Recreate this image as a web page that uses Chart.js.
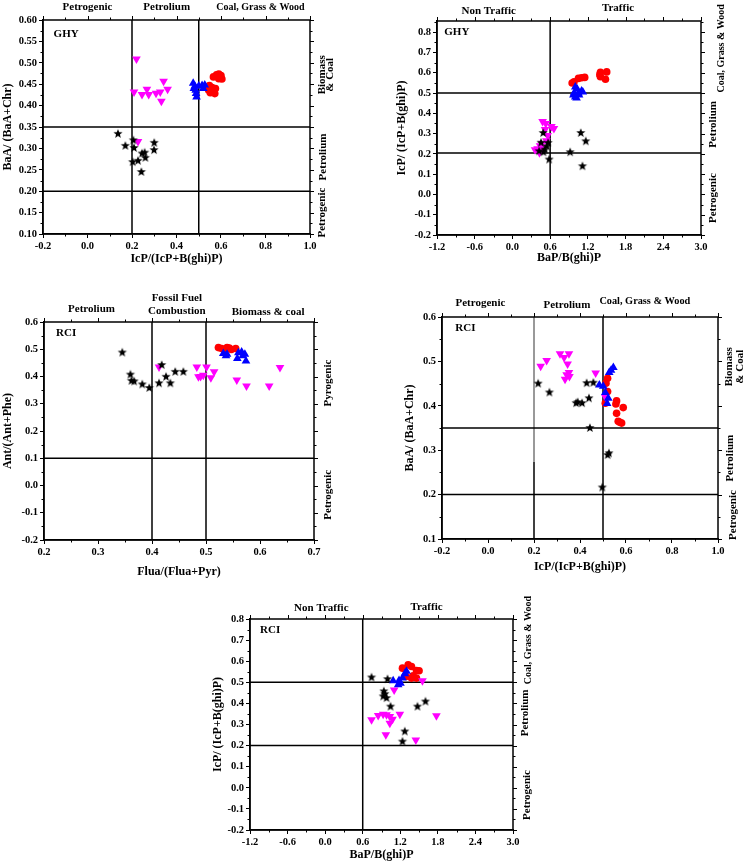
<!DOCTYPE html>
<html>
<head>
<meta charset="utf-8">
<script src="https://cdn.jsdelivr.net/npm/chart.js@4.4.0/dist/chart.umd.min.js"></script>
<style>
html, body { margin: 0; padding: 0; background: #fff; width: 748px; height: 862px; overflow: hidden; position: relative; }
.panel { position: absolute; }
</style>
</head>
<body>
<script>
// ---- GHY : BaA/(BaA+Chr) vs IcP/(IcP+B(ghi)P)
const ghy1Star = [[0.137,0.334],[0.170,0.306],[0.206,0.319],[0.209,0.301],[0.300,0.313],[0.299,0.296],[0.245,0.288],[0.257,0.290],[0.260,0.278],[0.227,0.271],[0.203,0.268],[0.242,0.245]];
const ghy1Mag = [[0.220,0.509],[0.209,0.432],[0.245,0.426],[0.267,0.438],[0.275,0.426],[0.308,0.429],[0.327,0.432],[0.332,0.410],[0.342,0.457],[0.360,0.438],[0.227,0.316]];
const ghy1Blue = [[0.475,0.452],[0.478,0.440],[0.482,0.445],[0.486,0.436],[0.488,0.428],[0.490,0.420],[0.500,0.446],[0.515,0.447],[0.527,0.448],[0.520,0.440]];
const ghy1Red = [[0.566,0.467],[0.580,0.472],[0.590,0.474],[0.600,0.470],[0.604,0.462],[0.590,0.463],[0.535,0.442],[0.545,0.436],[0.552,0.430],[0.560,0.442],[0.566,0.435],[0.572,0.428],[0.575,0.440],[0.548,0.447]];
const ghy1V = [0.2, 0.5];
const ghy1H = [0.35, 0.2];

// ---- GHY : IcP/(IcP+B(ghi)P) vs BaP/B(ghi)P
const ghy2Star = [[0.489,0.303],[1.087,0.303],[1.167,0.262],[0.547,0.237],[0.515,0.221],[0.494,0.208],[0.918,0.208],[0.584,0.172],[1.114,0.139],[0.425,0.213],[0.568,0.254],[0.455,0.255]];
const ghy2Mag = [[0.48,0.36],[0.53,0.35],[0.62,0.335],[0.66,0.325],[0.52,0.32],[0.56,0.29],[0.54,0.265],[0.44,0.24],[0.40,0.225],[0.36,0.22],[0.43,0.205],[0.48,0.23],[0.47,0.25]];
const ghy2Blue = [[1.00,0.53],[1.03,0.52],[1.05,0.50],[0.97,0.49],[1.00,0.48],[1.06,0.49],[1.10,0.51],[1.12,0.505],[0.98,0.50],[1.02,0.475]];
const ghy2Red = [[0.95,0.549],[0.98,0.555],[1.05,0.572],[1.10,0.575],[1.15,0.577],[1.39,0.59],[1.40,0.602],[1.50,0.604],[1.48,0.568],[1.40,0.58]];
const ghy2V = [0.6];
const ghy2H = [0.5, 0.204];

// ---- RCI : Ant/(Ant+Phe) vs Flua/(Flua+Pyr)
const rci3Star = [[0.345,0.488],[0.360,0.407],[0.362,0.384],[0.367,0.382],[0.382,0.371],[0.395,0.358],[0.413,0.375],[0.418,0.442],[0.426,0.399],[0.434,0.375],[0.443,0.417],[0.458,0.417]];
const rci3Mag = [[0.413,0.435],[0.483,0.435],[0.501,0.435],[0.486,0.399],[0.495,0.405],[0.509,0.395],[0.515,0.417],[0.557,0.387],[0.575,0.365],[0.617,0.365],[0.637,0.433],[0.490,0.400]];
const rci3Blue = [[0.532,0.484],[0.539,0.482],[0.537,0.476],[0.560,0.487],[0.566,0.490],[0.558,0.466],[0.572,0.482],[0.574,0.457],[0.568,0.476]];
const rci3Red = [[0.523,0.506],[0.529,0.503],[0.539,0.506],[0.547,0.499],[0.555,0.503],[0.535,0.499],[0.543,0.504]];
const rci3V = [0.4, 0.5];
const rci3H = [0.1];

// ---- RCI : BaA/(BaA+Chr) vs IcP/(IcP+B(ghi)P)
const rci4Star = [[0.218,0.450],[0.267,0.430],[0.383,0.406],[0.409,0.406],[0.439,0.417],[0.429,0.451],[0.458,0.452],[0.443,0.350],[0.520,0.289],[0.526,0.293],[0.497,0.216],[0.390,0.408]];
const rci4Mag = [[0.229,0.489],[0.255,0.502],[0.313,0.517],[0.331,0.509],[0.352,0.517],[0.346,0.494],[0.352,0.475],[0.354,0.466],[0.335,0.460],[0.342,0.470],[0.468,0.474],[0.510,0.420]];
const rci4Blue = [[0.484,0.447],[0.501,0.444],[0.527,0.475],[0.545,0.486],[0.510,0.430],[0.523,0.417],[0.518,0.405],[0.535,0.480]];
const rci4Red = [[0.520,0.462],[0.513,0.451],[0.520,0.432],[0.510,0.406],[0.559,0.411],[0.556,0.404],[0.559,0.383],[0.588,0.396],[0.566,0.365],[0.581,0.361],[0.573,0.363]];
const rci4V = [0.2, 0.5];
const rci4H = [0.35, 0.2];

// ---- RCI : IcP/(IcP+B(ghi)P) vs BaP/B(ghi)P
const rci5Star = [[0.741,0.523],[0.996,0.515],[0.937,0.457],[0.953,0.444],[0.927,0.433],[0.98,0.425],[1.044,0.385],[1.474,0.385],[1.602,0.409],[1.272,0.267],[1.235,0.219]];
const rci5Mag = [[0.741,0.322],[0.847,0.343],[0.927,0.349],[0.98,0.346],[1.033,0.338],[1.076,0.325],[1.033,0.306],[1.193,0.349],[1.777,0.341],[0.969,0.251],[1.448,0.227],[1.102,0.464],[1.554,0.507]];
const rci5Blue = [[1.086,0.507],[1.166,0.488],[1.203,0.496],[1.235,0.52],[1.272,0.54],[1.299,0.552],[1.18,0.509]];
const rci5Red = [[1.235,0.567],[1.326,0.583],[1.379,0.575],[1.458,0.556],[1.5,0.555],[1.379,0.52],[1.458,0.52],[1.289,0.528],[1.405,0.531]];
const rci5V = [0.6];
const rci5H = [0.5, 0.2];

const FONT = "'Liberation Serif', 'Times New Roman', serif";
const padL = 46, padT = 30, padR = 34, padB = 40;

function fmt(d) {
    return v => (Math.abs(v) < 1e-9 ? 0 : v).toFixed(d);
}

// filled five point star used as point style
function starImage(r) {
    const c = document.createElement('canvas');
    const s = Math.ceil(r * 2) + 2;
    c.width = s; c.height = s;
    const g = c.getContext('2d');
    g.fillStyle = '#000';
    g.beginPath();
    for (let i = 0; i < 10; i++) {
        const rr = i % 2 ? r * 0.42 : r;
        const a = -Math.PI / 2 + i * Math.PI / 5;
        g.lineTo(s / 2 + rr * Math.cos(a), s / 2 + rr * Math.sin(a));
    }
    g.closePath();
    g.fill();
    return c;
}
const STAR = starImage(4.8);

const toPts = a => a.map(p => ({x: p[0], y: p[1]}));

// frame, minor/mirrored ticks and region labels
const decor = {
    id: 'decor',
    afterDraw(chart, args, o) {
        const ctx = chart.ctx, a = chart.chartArea;
        const xs = chart.scales.x, ys = chart.scales.y;
        ctx.save();
        ctx.strokeStyle = '#000';
        ctx.lineWidth = 1.5;
        ctx.strokeRect(a.left, a.top, a.right - a.left, a.bottom - a.top);
        ctx.lineWidth = 1;
        const isMajor = (v, s) => s.ticks.some(t => Math.abs(t.value - v) < 1e-6);
        ctx.beginPath();
        for (let v = xs.min; v <= xs.max + 1e-9; v += o.minorX) {
            const px = Math.round(xs.getPixelForValue(v)) + 0.5;
            const len = isMajor(v, xs) ? 4 : 2.5;
            ctx.moveTo(px, a.top); ctx.lineTo(px, a.top - len);
            if (!isMajor(v, xs)) { ctx.moveTo(px, a.bottom); ctx.lineTo(px, a.bottom + len); }
        }
        for (let v = ys.min; v <= ys.max + 1e-9; v += o.minorY) {
            const py = Math.round(ys.getPixelForValue(v)) + 0.5;
            const len = isMajor(v, ys) ? 4 : 2.5;
            ctx.moveTo(a.right, py); ctx.lineTo(a.right + len, py);
            if (!isMajor(v, ys)) { ctx.moveTo(a.left, py); ctx.lineTo(a.left - len, py); }
        }
        ctx.stroke();

        ctx.fillStyle = '#000';
        ctx.textAlign = 'left';
        ctx.textBaseline = 'middle';
        ctx.font = 'bold 11px ' + FONT;
        ctx.fillText(o.tag, a.left + o.tagAt[0], a.top + o.tagAt[1]);

        ctx.textAlign = 'center';
        o.tops.forEach(l => {
            ctx.font = 'bold ' + (l.size || 11) + 'px ' + FONT;
            const px = xs.getPixelForValue(l.x);
            l.t.forEach((s, i) => ctx.fillText(s, px, a.top + l.dy[i]));
        });
        o.rights.forEach(l => {
            ctx.font = 'bold ' + (l.size || 11) + 'px ' + FONT;
            const py = ys.getPixelForValue(l.y);
            l.t.forEach((s, i) => {
                ctx.save();
                ctx.translate(a.right + l.dx[i], py);
                ctx.rotate(-Math.PI / 2);
                ctx.fillText(s, 0, 0);
                ctx.restore();
            });
        });
        ctx.restore();
    }
};

function makePanel(p) {
    const b = p.box;
    const w = b.R - b.L + padL + padR;
    const h = b.B - b.T + padT + padB;
    const div = document.createElement('div');
    div.className = 'panel';
    div.style.left = (b.L - padL) + 'px';
    div.style.top = (b.T - padT) + 'px';
    div.style.width = w + 'px';
    div.style.height = h + 'px';
    const cv = document.createElement('canvas');
    cv.width = w; cv.height = h;
    div.appendChild(cv);
    document.body.appendChild(div);

    const lines = [];
    p.v.forEach(v => lines.push({pts: [{x: v, y: p.y.min}, {x: v, y: p.y.max}], c: '#000'}));
    p.h.forEach(v => lines.push({pts: [{x: p.x.min, y: v}, {x: p.x.max, y: v}], c: '#000'}));
    (p.extra || []).forEach(e => lines.push(e));

    const datasets = [
        {label: 'Star', data: toPts(p.sets[0]), pointStyle: STAR, pointRadius: 4.8, order: 1},
        {label: 'Blue', data: toPts(p.sets[2]), pointStyle: 'triangle', pointRadius: 5, backgroundColor: '#0000ff', borderColor: '#0000ff', borderWidth: 0, order: 1},
        {label: 'Magenta', data: toPts(p.sets[1]), pointStyle: 'triangle', rotation: 180, pointRadius: 5, backgroundColor: '#ff00ff', borderColor: '#ff00ff', borderWidth: 0, order: 1},
        {label: 'Red', data: toPts(p.sets[3]), pointStyle: 'circle', pointRadius: 3.8, backgroundColor: '#ff0000', borderColor: '#ff0000', borderWidth: 0, order: 1}
    ];
    lines.forEach(l => datasets.push({
        type: 'line', data: l.pts, borderColor: l.c, borderWidth: 1.5,
        pointRadius: 0, showLine: true, fill: false, order: 10
    }));

    const tickFont = {family: FONT, size: 10.5, weight: 'bold'};
    const titleFont = {family: FONT, size: 12, weight: 'bold'};

    new Chart(cv, {
        type: 'scatter',
        data: {datasets: datasets},
        options: {
            responsive: false,
            animation: false,
            events: [],
            layout: {padding: {top: padT, right: padR, left: 0, bottom: 0}},
            plugins: {
                legend: {display: false},
                tooltip: {enabled: false},
                decor: {tag: p.tag, tagAt: p.tagAt, tops: p.tops, rights: p.rights, minorX: p.x.minor, minorY: p.y.minor}
            },
            scales: {
                x: {
                    type: 'linear', position: 'bottom', min: p.x.min, max: p.x.max,
                    afterFit: s => { s.height = padB; },
                    ticks: {stepSize: p.x.step, includeBounds: false, callback: fmt(p.x.dec), font: tickFont, color: '#000', padding: 2, maxRotation: 0, autoSkip: false},
                    grid: {drawOnChartArea: false, tickLength: 4, color: '#000', lineWidth: 1},
                    border: {color: '#000', width: 1.5},
                    title: {display: true, text: p.x.title, font: titleFont, color: '#000', padding: {top: 0, bottom: p.x.tp}}
                },
                y: {
                    type: 'linear', position: 'left', min: p.y.min, max: p.y.max,
                    afterFit: s => { s.width = padL; },
                    ticks: {stepSize: p.y.step, includeBounds: false, callback: fmt(p.y.dec), font: tickFont, color: '#000', padding: 2, autoSkip: false},
                    grid: {drawOnChartArea: false, tickLength: 4, color: '#000', lineWidth: 1},
                    border: {color: '#000', width: 1.5},
                    title: {display: true, text: p.y.title, font: titleFont, color: '#000', padding: {top: p.y.tp, bottom: 0}}
                }
            }
        },
        plugins: [decor]
    });
}

makePanel({
    box: {L: 43, T: 20, R: 310, B: 234},
    x: {min: -0.2, max: 1.0, step: 0.2, minor: 0.1, dec: 1, title: 'IcP/(IcP+B(ghi)P)', tp: 7.8},
    y: {min: 0.1, max: 0.6, step: 0.05, minor: 0.025, dec: 2, title: 'BaA/ (BaA+Chr)', tp: 4.1},
    tag: 'GHY', tagAt: [10.6, 14.3],
    v: ghy1V, h: ghy1H,
    sets: [ghy1Star, ghy1Mag, ghy1Blue, ghy1Red],
    tops: [
        {t: ['Petrogenic'], x: 0.0, dy: [-12.7]},
        {t: ['Petrolium'], x: 0.356, dy: [-12.7]},
        {t: ['Coal, Grass & Wood'], x: 0.777, dy: [-12.7], size: 10}
    ],
    rights: [
        {t: ['Biomass', '& Coal'], y: 0.472, dx: [11.7, 20.3]},
        {t: ['Petrolium'], y: 0.28, dx: [12.7]},
        {t: ['Petrogenic'], y: 0.15, dx: [11.7]}
    ]
});

makePanel({
    box: {L: 437, T: 21, R: 701, B: 235},
    x: {min: -1.2, max: 3.0, step: 0.6, minor: 0.3, dec: 1, title: 'BaP/B(ghi)P', tp: 9.5},
    y: {min: -0.2, max: 0.855, step: 0.1, minor: 0.05, dec: 1, title: 'IcP/ (IcP+B(ghi)P)', tp: 3.8},
    tag: 'GHY', tagAt: [7.3, 10.7],
    v: ghy2V, h: ghy2H,
    sets: [ghy2Star, ghy2Mag, ghy2Blue, ghy2Red],
    tops: [
        {t: ['Non Traffic'], x: -0.377, dy: [-10.3]},
        {t: ['Traffic'], x: 1.68, dy: [-12.7]}
    ],
    rights: [
        {t: ['Coal, Grass & Wood'], y: 0.72, dx: [20.7], size: 10},
        {t: ['Petrolium'], y: 0.345, dx: [12.3]},
        {t: ['Petrogenic'], y: -0.018, dx: [12.3]}
    ]
});

makePanel({
    box: {L: 44, T: 322, R: 314, B: 540},
    x: {min: 0.2, max: 0.7, step: 0.1, minor: 0.05, dec: 1, title: 'Flua/(Flua+Pyr)', tp: 1.1},
    y: {min: -0.2, max: 0.6, step: 0.1, minor: 0.05, dec: 1, title: 'Ant/(Ant+Phe)', tp: 2.8},
    tag: 'RCI', tagAt: [12, 11.6],
    v: rci3V, h: rci3H,
    sets: [rci3Star, rci3Mag, rci3Blue, rci3Red],
    tops: [
        {t: ['Petrolium'], x: 0.288, dy: [-13]},
        {t: ['Fossil Fuel', 'Combustion'], x: 0.446, dy: [-23.7, -11.3]},
        {t: ['Biomass & coal'], x: 0.615, dy: [-9.7]}
    ],
    rights: [
        {t: ['Pyrogenic'], y: 0.376, dx: [14.3]},
        {t: ['Petrogenic'], y: -0.034, dx: [14.3]}
    ]
});

makePanel({
    box: {L: 442, T: 317, R: 718, B: 539},
    x: {min: -0.2, max: 1.0, step: 0.2, minor: 0.1, dec: 1, title: 'IcP/(IcP+B(ghi)P)', tp: 5.1},
    y: {min: 0.1, max: 0.6, step: 0.1, minor: 0.05, dec: 1, title: 'BaA/ (BaA+Chr)', tp: 7.1},
    tag: 'RCI', tagAt: [13.3, 11],
    v: [0.5], h: rci4H,
    extra: [
        {pts: [{x: rci4V[0], y: 0.274}, {x: rci4V[0], y: 0.6}], c: '#777777'},
        {pts: [{x: rci4V[0], y: 0.1}, {x: rci4V[0], y: 0.274}], c: '#000'}
    ],
    sets: [rci4Star, rci4Mag, rci4Blue, rci4Red],
    tops: [
        {t: ['Petrogenic'], x: -0.033, dy: [-13.7]},
        {t: ['Petrolium'], x: 0.343, dy: [-12]},
        {t: ['Coal, Grass & Wood'], x: 0.682, dy: [-16], size: 10.3}
    ],
    rights: [
        {t: ['Biomass', '& Coal'], y: 0.488, dx: [11.3, 22]},
        {t: ['Petrolium'], y: 0.282, dx: [12]},
        {t: ['Petrogenic'], y: 0.154, dx: [14.7]}
    ]
});

makePanel({
    box: {L: 250, T: 619, R: 513, B: 830},
    x: {min: -1.2, max: 3.0, step: 0.6, minor: 0.3, dec: 1, title: 'BaP/B(ghi)P', tp: 7.8},
    y: {min: -0.2, max: 0.8, step: 0.1, minor: 0.05, dec: 1, title: 'IcP/ (IcP+B(ghi)P)', tp: 6.8},
    tag: 'RCI', tagAt: [10, 10.7],
    v: rci5V, h: rci5H,
    sets: [rci5Star, rci5Mag, rci5Blue, rci5Red],
    tops: [
        {t: ['Non Traffic'], x: -0.061, dy: [-10.7]},
        {t: ['Traffic'], x: 1.619, dy: [-12.3]}
    ],
    rights: [
        {t: ['Coal, Grass & Wood'], y: 0.70, dx: [15.3], size: 10},
        {t: ['Petrolium'], y: 0.355, dx: [12]},
        {t: ['Petrogenic'], y: -0.034, dx: [13.7]}
    ]
});
</script>
</body>
</html>
